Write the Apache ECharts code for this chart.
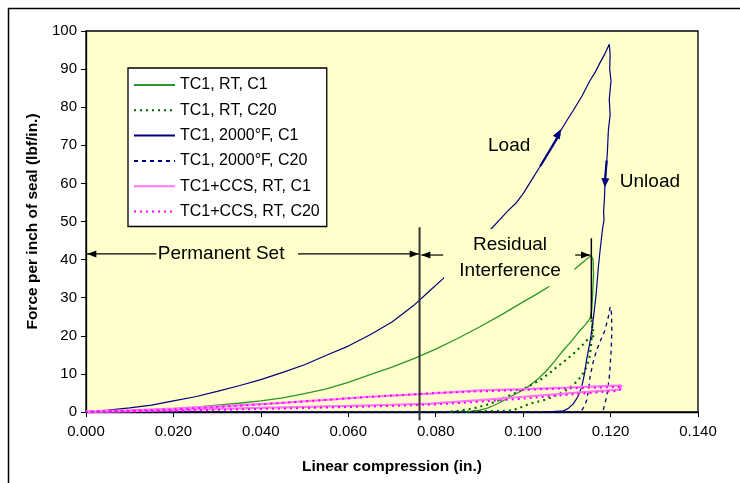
<!DOCTYPE html>
<html><head><meta charset="utf-8">
<script src="https://cdn.jsdelivr.net/npm/echarts@6/dist/echarts.min.js"></script>
<style>html,body{margin:0;padding:0;background:#fff}#c{width:740px;height:483px}</style>
</head><body><div id="c"></div>
<script>
// ---- data (x = linear compression in., y = force lbf/in.) ----
const seriesNames = ["TC1, RT, C1","TC1, RT, C20","TC1, 2000°F, C1","TC1, 2000°F, C20","TC1+CCS, RT, C1","TC1+CCS, RT, C20"];
const xTicks = [0,0.02,0.04,0.06,0.08,0.10,0.12,0.14];
const yTicks = [0,10,20,30,40,50,60,70,80,90,100];

const tc1RtC1 = [[0,0],[0.005,0.1],[0.010,0.3],[0.015,0.6],[0.020,0.9],[0.025,1.3],[0.030,1.8],[0.035,2.3],[0.040,2.9],[0.045,3.7],[0.050,4.8],[0.055,6.1],[0.060,7.8],[0.065,9.8],[0.070,11.8],[0.075,14.0],[0.080,16.5],[0.085,19.3],[0.090,22.3],[0.095,25.5],[0.100,28.9],[0.1035,31.2],[0.1068,33.6],[0.1095,35.6],[0.1119,37.6],[0.1140,39.6],[0.1155,41.1],[0.1160,40.0],[0.1161,36.0],[0.1159,31.0],[0.1157,27.0],[0.1153,24.5],[0.1143,23.0],[0.1130,21.4],[0.1112,18.8],[0.1092,16.2],[0.1073,13.5],[0.1054,10.9],[0.1035,8.8],[0.1016,7.0],[0.0997,5.6],[0.0977,4.4],[0.0958,3.2],[0.0940,2.1],[0.0920,1.1],[0.0901,0.5],[0.0880,0.15],[0.0860,0]];
const tc1RtC20 = [[0.0830,0],[0.0900,0.2],[0.0960,0.3],[0.0977,0.5],[0.0997,1.3],[0.1016,2.2],[0.1050,3.2],[0.1084,4.8],[0.1105,6.2],[0.1122,7.9],[0.1135,9.7],[0.1145,11.8],[0.1152,14.5],[0.1155,17.0],[0.1158,22.0],[0.1156,25.0],[0.1160,22.0],[0.1160,19.0],[0.1153,19.7],[0.1135,17.5],[0.1115,15.3],[0.1096,13.5],[0.1077,11.8],[0.1058,10.0],[0.1040,8.5],[0.1020,7.2],[0.1000,6.0],[0.0980,4.9],[0.0962,4.0],[0.0940,2.9],[0.0920,2.0],[0.0895,1.2],[0.0870,0.6],[0.0845,0.2],[0.0825,0]];
const tc1HtC1 = [[0,0],[0.005,0.5],[0.010,1.1],[0.015,1.8],[0.020,2.9],[0.025,4.0],[0.030,5.4],[0.035,6.9],[0.040,8.5],[0.045,10.4],[0.050,12.4],[0.055,14.9],[0.060,17.3],[0.065,20.3],[0.070,23.6],[0.075,28.0],[0.0787,31.9],[0.0817,35.0],[0.0870,41.5],[0.0924,47.7],[0.0945,50.3],[0.0965,52.8],[0.0985,55.0],[0.1000,57.3],[0.1020,61.0],[0.1039,64.5],[0.1062,69.0],[0.1084,73.5],[0.1100,76.5],[0.1115,79.2],[0.1127,81.5],[0.1135,83.0],[0.1153,87.0],[0.1165,89.2],[0.1175,91.5],[0.1187,94.0],[0.1197,96.5],[0.1199,94.0],[0.1198,90.0],[0.1201,87.0],[0.1197,82.0],[0.1199,78.0],[0.1195,74.0],[0.1193,69.0],[0.1191,65.2],[0.1187,59.5],[0.1186,56.0],[0.1184,52.5],[0.1185,50.5],[0.1181,47.5],[0.1176,42.4],[0.1172,38.0],[0.1167,31.0],[0.1161,24.9],[0.1154,19.0],[0.1145,13.6],[0.1140,9.8],[0.1134,6.6],[0.1125,4.0],[0.1115,2.2],[0.1104,1.0],[0.1092,0.3],[0.1050,0]];
const tc1HtC20 = [[0,0],[0.1120,0],[0.1134,0.4],[0.1140,1.5],[0.1145,3.0],[0.1150,6.0],[0.1153,9.2],[0.1160,13.0],[0.1168,16.2],[0.1178,19.0],[0.1187,21.4],[0.1195,25.0],[0.1199,27.6],[0.1202,26.0],[0.1203,21.4],[0.1201,15.4],[0.1197,9.0],[0.1191,4.0],[0.1183,0.4],[0.1180,0]];
const ccsRtC1 = [[0,0],[0.010,0.25],[0.020,0.5],[0.030,0.8],[0.040,1.1],[0.050,1.35],[0.060,1.6],[0.070,1.9],[0.0787,2.2],[0.090,3.1],[0.100,4.0],[0.110,4.9],[0.1222,5.9],[0.1225,7.0],[0.110,6.4],[0.100,6.0],[0.090,5.7],[0.0787,4.8],[0.070,4.3],[0.065,4.0],[0.055,3.2],[0.042,2.2],[0.030,1.5],[0.020,0.9],[0.010,0.45],[0,0.2]];
const ccsRtC20 = [[0,0],[0.010,0.15],[0.020,0.3],[0.030,0.55],[0.040,0.8],[0.050,1.05],[0.060,1.3],[0.070,1.6],[0.080,2.0],[0.090,2.7],[0.100,3.5],[0.110,4.5],[0.1220,5.6],[0.1225,6.6],[0.110,6.2],[0.100,5.8],[0.090,5.4],[0.080,5.0],[0.070,4.3],[0.060,3.6],[0.050,2.8],[0.040,2.0],[0.030,1.3],[0.020,0.7],[0.010,0.35],[0,0.1]];

const seriesData = [tc1RtC1, tc1RtC20, tc1HtC1, tc1HtC20, ccsRtC1, ccsRtC20];
const seriesColors = ['#2a952a','#006600','#000080','#000080','#ff77ff','#ff00ff'];
const seriesWidths = [1.3, 2.2, 1.2, 1.3, 2.2, 2];
const seriesDash = ['solid',[2,4],'solid',[4,4],'solid',[2,4]];

const chart = echarts.init(document.getElementById('c'), null, {renderer:'canvas'});
const FONT = 'Liberation Sans, Arial, sans-serif';

const option = {
  animation:false,
  backgroundColor:'#ffffff',
  grid:{left:86, top:31, width:612, height:381, show:true, backgroundColor:'#FFFFCC', borderColor:'#000', borderWidth:1.3},
  legend:{
    orient:'vertical', left:128, top:68,
    backgroundColor:'#fff', borderColor:'#000', borderWidth:1.3,
    padding:[9,7,7,5], itemWidth:41, itemHeight:16, itemGap:9.3,
    itemStyle:{opacity:0, borderWidth:0},
    textStyle:{fontFamily:FONT, fontSize:16, color:'#000'},
    data: seriesNames
  },
  xAxis:{type:'value', min:0, max:0.14, interval:0.02,
    name:'Linear compression (in.)', nameLocation:'middle', nameGap:47,
    nameTextStyle:{fontFamily:FONT, fontSize:15.5, fontWeight:'bold', color:'#000'},
    axisLine:{lineStyle:{color:'#000', width:1.3}},
    axisTick:{show:true, length:5, lineStyle:{color:'#000'}},
    axisLabel:{fontFamily:FONT, fontSize:15, color:'#000', margin:12, formatter:v=>v.toFixed(3)},
    splitLine:{show:false}},
  yAxis:{type:'value', min:0, max:100, interval:10,
    name:'Force per inch of seal (lbf/in.)', nameLocation:'middle', nameGap:44, nameRotate:90,
    nameTextStyle:{fontFamily:FONT, fontSize:15.5, fontWeight:'bold', color:'#000'},
    axisLine:{show:true, lineStyle:{color:'#000', width:1.3}},
    axisTick:{show:true, length:5, lineStyle:{color:'#000'}},
    axisLabel:{fontFamily:FONT, fontSize:15, color:'#000', margin:9},
    splitLine:{show:false}},
  series: seriesNames.map((n,i)=>({
    name:n, type:'line', data:seriesData[i], symbol:'none', showSymbol:false,
    lineStyle:{color:seriesColors[i], width:seriesWidths[i], type:seriesDash[i]},
    itemStyle:{color:seriesColors[i]}, z:2+i, clip:false
  }))
};
chart.setOption(option);

// ---- annotations (placed through the axes) ----
const P = (x,y)=>chart.convertToPixel({gridIndex:0},[x,y]);
function head(tip, from, len, half, color){
  const dx=tip[0]-from[0], dy=tip[1]-from[1], L=Math.hypot(dx,dy)||1;
  const ux=dx/L, uy=dy/L, px=-uy, py=ux;
  const bx=tip[0]-ux*len, by=tip[1]-uy*len;
  return {type:'polygon', z:110, shape:{points:[tip,[bx+px*half,by+py*half],[bx-px*half,by-py*half]]}, style:{fill:color}};
}
function seg(a,b,w,color){return {type:'line', z:110, shape:{x1:a[0],y1:a[1],x2:b[0],y2:b[1]}, style:{stroke:color, lineWidth:w}};}
function txt(p,s){return {type:'text', z:120, x:p[0], y:p[1], style:{text:s, fontFamily:FONT, fontSize:19, fill:'#000', align:'center', verticalAlign:'middle'}};}

const g = [];
g.push({type:'rect', z:-10, shape:{x:8.5,y:8.5,width:1000,height:1000}, style:{fill:'none', stroke:'#000', lineWidth:1.5}});
const r1=P(0.0819,48.0), r2=P(0.1117,33.0);
g.push({type:'rect', z:100, shape:{x:r1[0],y:r1[1],width:r2[0]-r1[0],height:r2[1]-r1[1]}, style:{fill:'#FFFFCC'}});
g.push(txt(P(0.0970,44.0),'Residual'));
g.push(txt(P(0.0970,37.2),'Interference'));
const yPS=41.5, xVL=0.0763;
g.push(seg(P(0,yPS),P(0.0161,yPS),1.2,'#000'));
g.push(seg(P(0.0485,yPS),P(xVL,yPS),1.2,'#000'));
g.push(head(P(0.0003,yPS),P(0.01,yPS),9,3.5,'#000'));
g.push(head(P(xVL-0.0002,yPS),P(0.06,yPS),9,3.5,'#000'));
g.push(txt(P(0.0309,yPS),'Permanent Set'));
g.push(seg(P(xVL,48.5),P(xVL,-2.2),2,'#333'));
g.push(seg(P(0.0817,41.2),P(0.0767,41.2),1.2,'#000'));
g.push(head(P(0.0767,41.2),P(0.0817,41.2),9,3.5,'#000'));
g.push(seg(P(0.1119,41.2),P(0.1153,41.2),1.2,'#000'));
g.push(head(P(0.1153,41.2),P(0.1119,41.2),9,3.5,'#000'));
g.push(seg(P(0.1156,45.6),P(0.1156,24.6),1.5,'#000'));
g.push(txt(P(0.0968,70.0),'Load'));
g.push(txt(P(0.1290,60.4),'Unload'));
g.push(seg(P(0.1039,64.5),P(0.1084,73.0),2.2,'#000080'));
g.push(head(P(0.1087,74.3),P(0.1039,64.5),10,4,'#000080'));
g.push(seg(P(0.1191,66.0),P(0.1187,60.5),2.2,'#000080'));
g.push(head(P(0.1187,59.0),P(0.1190,66.0),9,4,'#000080'));
chart.setOption({graphic:g});
</script></body></html>
